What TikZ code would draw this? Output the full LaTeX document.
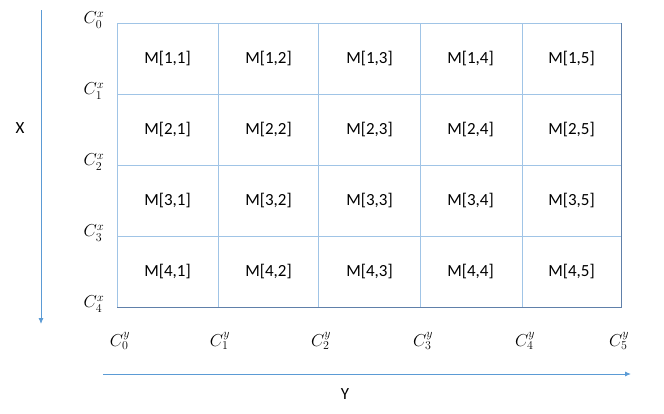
\documentclass[tikz,border=0pt]{standalone}
\usepackage{fontspec}
\setmainfont{Carlito}
\usetikzlibrary{arrows.meta}
\definecolor{gridblue}{RGB}{160,196,230}
\definecolor{edgeblue}{RGB}{96,128,170}
\definecolor{axisblue}{RGB}{91,155,213}
\tikzset{
  cell/.style={font=\fontsize{17}{19}\selectfont},
  tag/.style={font=\fontsize{18}{20}\selectfont, inner sep=0pt},
  axis/.style={axisblue, line width=0.9pt, -{Latex[length=6pt,width=5pt]}}
}
\begin{document}
\begin{tikzpicture}[x=1pt,y=-1pt]

	\useasboundingbox (0,0) rectangle (664,413);

	% Rejilla
	\foreach \c in {218,318,420,522}
		\draw[gridblue, line width=0.8pt] (\c,23) -- (\c,307);
	\foreach \r in {94,165,236}
		\draw[gridblue, line width=0.8pt] (117,\r) -- (621,\r);
	\draw[gridblue, line width=0.8pt] (117,307) -- (117,23) -- (621,23);
	\draw[edgeblue, line width=0.8pt] (621,23) -- (621,307) -- (117,307);

	% Celdas
	\foreach \i in {1,...,4}
		\foreach \j in {1,...,5}
			\node[cell] (M-\i-\j) at ({117+101*(\j-0.5)},{23+71*(\i-0.5)}) {M[\i,\j]};

	% Etiquetas
	\foreach \i/\r in {0/20,1/91,2/162,3/233,4/304}
		\node[tag] (cx-\i) at (94,\r) {$C^{x}_{\i}$};
	\foreach \j/\c in {0/120,1/220,2/321,3/423,4/525,5/619}
		\node[tag] (cy-\j) at (\c,341) {$C^{y}_{\j}$};

	% Ejes
	\coordinate (xa) at (41,10);
	\coordinate (xb) at (41,324);
	\coordinate (ya) at (103,374);
	\coordinate (yb) at (631,374);
	\draw[axis] (xa) -- (xb);
	\draw[axis] (ya) -- (yb);
	\node[cell] (X) at (20,128) {X};
	\node[cell] (Y) at (345,394) {Y};

\end{tikzpicture}
\end{document}
